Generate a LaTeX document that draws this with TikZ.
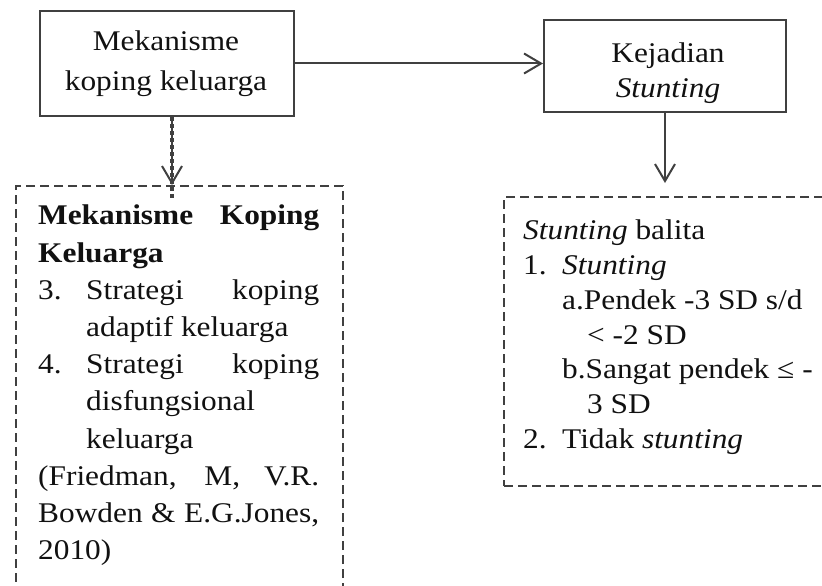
\documentclass[tikz,border=0pt]{standalone}
\usepackage{fontspec}
\setmainfont{Liberation Serif}[FakeStretch=1.10]
\usetikzlibrary{arrows.meta}
\setlength\parindent{0pt}
\setlength\parskip{0pt}
\definecolor{ln}{HTML}{404040}
\definecolor{tx}{HTML}{111111}
\tikzset{
  solidbox/.style={draw=ln, line width=2pt, rectangle, inner sep=0pt},
  dashbox/.style={draw=ln, line width=2pt, rectangle, inner sep=0pt, dash pattern=on 9pt off 5pt, anchor=north west},
  headtext/.style={inner sep=0pt, text=tx, align=center},
  bodytext/.style={inner sep=0pt, text=tx, align=justify, anchor=north west},
  arr/.style={draw=ln, line width=2pt, -{Straight Barb[length=17pt,width=20pt]}},
}
\begin{document}
\begin{tikzpicture}[x=1pt,y=-1pt]
\useasboundingbox (0,0) rectangle (822,586);
\clip (0,0) rectangle (822,586);
\fill[white] (0,0) rectangle (822,586);

% top boxes
\node[solidbox, minimum width=254pt, minimum height=105pt] (b1) at (167,63.5) {};
\node[headtext, font=\fontsize{28.5}{40}\selectfont] (b1t) at (166,63.5) {Mekanisme\\koping keluarga};

\node[solidbox, minimum width=242pt, minimum height=92pt] (b2) at (665,66) {};
\node[headtext, font=\fontsize{28.5}{35}\selectfont] (b2t) at (668,72.9) {Kejadian\\\textit{Stunting}};

% dashed boxes
\node[dashbox, minimum width=327pt, minimum height=415pt] (lb) at (15,185) {};
\node[dashbox, minimum width=400pt, minimum height=289pt] (rb) at (503,196) {};

% left text
\node[bodytext, text width=281pt, font=\fontsize{28.5}{37.2}\selectfont] (lt) at (38,205) {%
{\bfseries Mekanisme Koping\linebreak Keluarga}\par
\hangindent=48pt\hangafter=1 \makebox[48pt][l]{3.}Strategi koping\linebreak adaptif keluarga\par
\hangindent=48pt\hangafter=1 \makebox[48pt][l]{4.}Strategi koping\linebreak disfungsional\hfil\break keluarga\par
(Friedman, M, V.R.\linebreak Bowden \& E.G.Jones,\linebreak 2010)};

% right text
\node[bodytext, text width=297pt, font=\fontsize{28.5}{34.7}\selectfont] (rt) at (523,220) {%
\textit{Stunting} balita\par
\makebox[39pt][l]{1.}\textit{Stunting}\par
{\leftskip=39pt \hangindent=25pt\hangafter=1 a.Pendek -3 SD s/d\hfil\break < -2 SD\par}
{\leftskip=39pt \hangindent=25pt\hangafter=1 b.Sangat pendek ≤ -\hfil\break 3 SD\par}
\makebox[39pt][l]{2.}Tidak \textit{stunting}};

% connectors
\coordinate (t1) at (172,185);
\coordinate (t2) at (665,183);
\draw[arr] (b1.east) -- (b1.east -| b2.west);
\draw[arr] (b2.south) -- (t2);
\draw[arr] (b1.south -| t1) -- (t1);
\draw[draw=ln, line width=3.6pt, dash pattern=on 4pt off 3pt] (b1.south -| t1) -- ([yshift=-14pt]t1);
\end{tikzpicture}
\end{document}
